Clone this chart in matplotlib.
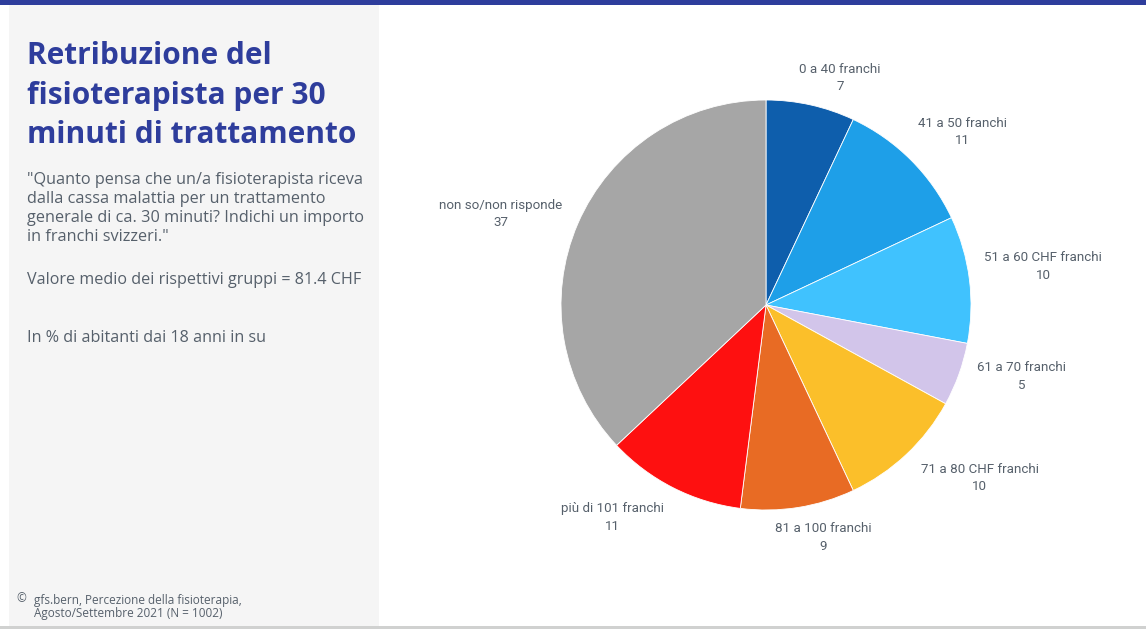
import numpy as np
import matplotlib
matplotlib.use("Agg")
import matplotlib.pyplot as plt
from matplotlib.patches import Rectangle

# Survey answers (percent of residents aged 18+)
categories = [
    "0 a 40 franchi",
    "41 a 50 franchi",
    "51 a 60 CHF franchi",
    "61 a 70 franchi",
    "71 a 80 CHF franchi",
    "81 a 100 franchi",
    "più di 101 franchi",
    "non so/non risponde",
]
values = [7, 11, 10, 5, 10, 9, 11, 37]
colors = ["#0E5EAC", "#1E9FE8", "#40C2FE", "#D2C5EA",
          "#FBBF2A", "#E86B24", "#FE1010", "#A6A6A6"]

title = "Retribuzione del\nfisioterapista per 30\nminuti di trattamento"
question = ('"Quanto pensa che un/a fisioterapista riceva\n'
            'dalla cassa malattia per un trattamento\n'
            'generale di ca. 30 minuti? Indichi un importo\n'
            'in franchi svizzeri."')
mean_note = "Valore medio dei rispettivi gruppi = 81.4 CHF"
base_note = "In % di abitanti dai 18 anni in su"
source = "gfs.bern, Percezione della fisioterapia,\nAgosto/Settembre 2021 (N = 1002)"

W, H = 1146, 629
fig = plt.figure(figsize=(W / 100, H / 100), dpi=100)
fig.patch.set_facecolor("white")

# Page frame drawn in pixel coordinates
bg = fig.add_axes([0, 0, 1, 1])
bg.set_xlim(0, W)
bg.set_ylim(H, 0)
bg.axis("off")
bg.add_patch(Rectangle((9, 5), 370, 621, color="#F5F5F5", lw=0))
bg.add_patch(Rectangle((0, 0), W, 5, color="#2E3D9C", lw=0))
bg.add_patch(Rectangle((0, 626), W, 3, color="#D0D1D0", lw=0))

TEXT = "#56606B"
font = ["Open Sans", "DejaVu Sans"]

bg.text(27, 41, title, color="#2E3D9C", fontsize=21.5, fontweight="bold",
        family=font, va="top", ha="left", linespacing=1.42)
bg.text(27, 172, question, color=TEXT, fontsize=11.7, family=font,
        va="top", ha="left", linespacing=1.25)
bg.text(27, 280, mean_note, color=TEXT, fontsize=11.6, family=font,
        va="center", ha="left")
bg.text(27, 338, base_note, color=TEXT, fontsize=11.6, family=font,
        va="center", ha="left")
bg.text(16, 599, "©", color=TEXT, fontsize=8.5, family=font,
        va="center", ha="left")
bg.text(34, 607, source, color=TEXT, fontsize=8.5, family=font,
        va="center", ha="left", linespacing=1.05)

# Pie axes laid out so that one data unit equals one pixel
cx, cy, half = 766, 305, 300
ax = fig.add_axes([(cx - half) / W, (H - cy - half) / H, 2 * half / W, 2 * half / H])

R = 205
wedges, _ = ax.pie(values, colors=colors, radius=R, startangle=90,
                   counterclock=False, center=(0, 0),
                   wedgeprops=dict(linewidth=0.6, edgecolor="white"))
ax.set_xlim(-half, half)
ax.set_ylim(-half, half)
ax.axis("off")

# Labels anchored just outside the rim at each slice's mid-angle
label_r = R + 21
nudges = [(-16, -9), (-8, -2), (-6, 10), (-2, 5), (0, 7), (22, 6), (1, 4), (4, 1)]
for w, cat, v, (dx, dy) in zip(wedges, categories, values, nudges):
    ang = np.deg2rad((w.theta1 + w.theta2) / 2)
    x, y = label_r * np.cos(ang), label_r * np.sin(ang)
    c, s = np.cos(ang), np.sin(ang)
    ha = "left" if c > 0.3 else ("right" if c < -0.3 else "center")
    va = "bottom" if s > 0.5 else ("top" if s < -0.5 else "center")
    if ha == "center" and s > 0:
        ha = "left"
    ax.text(x + dx, y + dy, f"{cat}\n{v}", ha=ha, va=va, color=TEXT,
            fontsize=9.6, family=["Roboto", "DejaVu Sans"],
            multialignment="center", linespacing=1.45)

fig.savefig("out.png", dpi=100, facecolor="white")
